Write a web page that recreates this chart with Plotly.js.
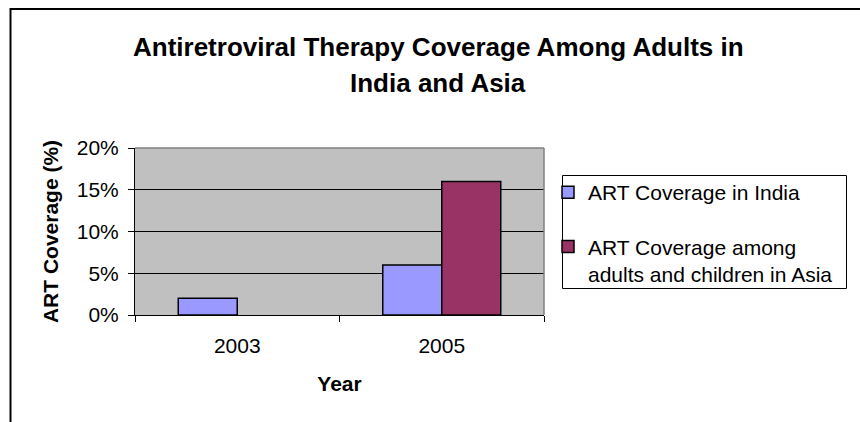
<!DOCTYPE html>
<html><head><meta charset="utf-8">
<script src="https://cdn.plot.ly/plotly-3.0.1.min.js"></script>
<style>html,body{margin:0;padding:0;background:#fff}#chart{width:860px;height:422px}</style>
</head><body><div id="chart"></div>
<script>
const years = ['2003', '2005'];
const indiaCoverage = [0.02, 0.06];
const asiaCoverage = [null, 0.16];
const seriesNames = ['ART Coverage in India', 'ART Coverage among<br>adults and children in Asia'];
const seriesColors = ['#9999FF', '#993366'];
const titleLines = ['Antiretroviral Therapy Coverage Among Adults in', 'India and Asia'];

const F = 'Arial, "Liberation Sans", sans-serif';
const L = 135, R = 544, T = 148, B = 315;
const W = 860, H = 422;
const px = x => (x - L) / (R - L);
const py = y => (B - y) / (B - T);

const traces = [indiaCoverage, asiaCoverage].map((vals, i) => ({
  type: 'bar', x: years, y: vals, name: seriesNames[i], legendgroup: 'g' + i,
  marker: {color: seriesColors[i], line: {color: '#000', width: 1.5}},
  hoverinfo: 'x+y'
}));

const layout = {
  width: W, height: H,
  margin: {l: L, r: W - R, t: T, b: H - B, pad: 0},
  paper_bgcolor: '#fff', plot_bgcolor: '#C0C0C0',
  barmode: 'group', bargap: 0.423, bargroupgap: 0,
  font: {family: F, size: 21, color: '#000'},
  showlegend: true,
  legend: {x: px(548), y: py(172), xanchor: 'left', yanchor: 'top',
    bordercolor: 'rgba(0,0,0,0)', borderwidth: 0, bgcolor: 'rgba(0,0,0,0)',
    font: {family: F, size: 21, color: '#000'},
    traceorder: 'grouped', tracegroupgap: 24, itemwidth: 30, valign: 'top'},
  xaxis: {type: 'category', showline: true, linecolor: '#000', linewidth: 1,
    ticks: 'outside', ticklen: 6, tickcolor: '#000', tickson: 'boundaries',
    showgrid: false, tickfont: {family: F, size: 21}, ticklabelstandoff: 12,
    title: {text: '<b>Year</b>', font: {family: F, size: 21}, standoff: 20}},
  yaxis: {range: [0, 0.2], dtick: 0.05, tickformat: '.0%', showline: true,
    linecolor: '#000', linewidth: 1, ticks: 'outside', ticklen: 6, tickcolor: '#000',
    showgrid: true, gridcolor: '#000', gridwidth: 1, zeroline: false,
    tickfont: {family: F, size: 21}, ticklabelstandoff: 5,
    title: {text: '<b>ART Coverage (%)</b>', font: {family: F, size: 21}, standoff: 12}},
  annotations: titleLines.map((t, i) => ({
    text: '<b>' + t + '</b>', xref: 'paper', yref: 'paper',
    x: px(438), y: py(i === 0 ? 47 : 83), xanchor: 'center', yanchor: 'middle',
    showarrow: false, font: {family: F, size: 26, color: '#000'}
  })),
  shapes: [
    {type: 'line', xref: 'paper', yref: 'paper', x0: 0, x1: 1, y0: 1, y1: 1,
     line: {color: '#808080', width: 1.5}, layer: 'above'},
    {type: 'line', xref: 'paper', yref: 'paper', x0: 1, x1: 1, y0: 0, y1: 1,
     line: {color: '#808080', width: 1.5}, layer: 'above'},
    {type: 'rect', xref: 'paper', yref: 'paper', x0: px(562.5), x1: px(846.5), y0: py(288.5), y1: py(175.5),
     line: {color: '#000', width: 1}, fillcolor: 'rgba(0,0,0,0)', layer: 'above'},
    {type: 'rect', xref: 'paper', yref: 'paper', x0: px(10.5), x1: px(880), y0: py(440), y1: py(9),
     line: {color: '#000', width: 2}, fillcolor: 'rgba(0,0,0,0)', layer: 'above'}
  ]
};
Plotly.newPlot('chart', traces, layout, {displayModeBar: false, staticPlot: true});
</script></body></html>
